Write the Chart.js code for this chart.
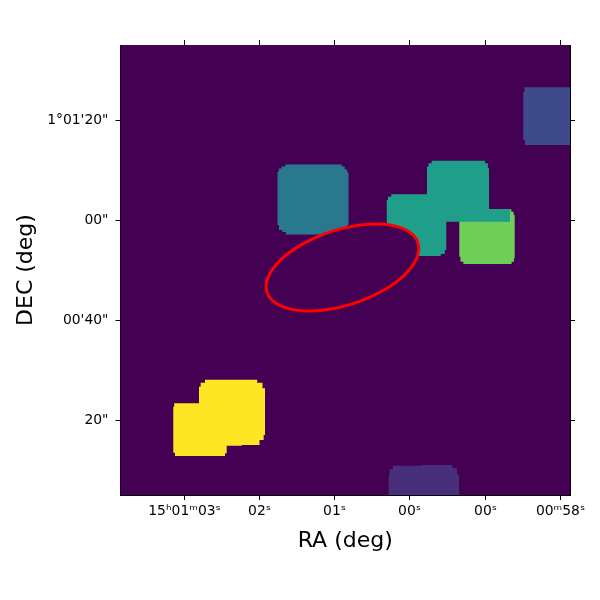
<!DOCTYPE html>
<html>
<head>
<meta charset="utf-8">
<style>body{margin:0;background:#fff}</style>
<script src="https://cdn.jsdelivr.net/npm/chart.js@4"></script>
</head>
<body>
<canvas id="map" width="600" height="600"></canvas>
<script>
// cutout grid: 450 x 450 columns/rows, row 0 at the bottom
var raTickPos = [63.5, 138.5, 213.5, 288.5, 364.5, 439.5];
var raTickLabels = ['15ʰ01ᵐ03ˢ', '02ˢ', '01ˢ', '00ˢ', '00ˢ', '00ᵐ58ˢ'];
var decTickPos = [374.5, 274.5, 174.5, 74.5];
var decTickLabels = ['1°01\'20"', '00"', '00\'40"', '20"'];

// outlines of each source, [col, row]
var ellipse = [[298,246.5],[295.4,235.8],[287.8,224.5],[275.6,213.3],[259.8,203.2],[241.3,194.7],[221.5,188.4],[201.7,184.8],[183.3,184.1],[167.4,186.4],[155.3,191.5],[147.6,199],[145,208.5],[147.6,219.2],[155.3,230.6],[167.4,241.7],[183.3,251.9],[201.7,260.3],[221.5,266.6],[241.3,270.2],[259.8,270.9],[275.6,268.6],[287.8,263.6],[295.4,256],[298,246.5]];
var blobTeal = [[265.7,295],[268.3,298.3],[272.3,300.7],[306,300.7],[306,328.3],[309,331.7],[312.3,334.3],[362.3,334.3],[365.7,331.7],[368,326.7],[368,285.7],[389,285.7],[389,273.3],[325.3,273.3],[325.3,245],[322.3,241],[317.3,239],[266,239]];
var blobGreen = [[338.3,274],[338.3,238.3],[340.7,233.3],[344,231],[389,231],[392.3,233.3],[393.7,236.7],[393.7,280],[391.7,283.3],[389,285.7],[338,285.7]];
var blobBlue = [[156.5,323],[159,326.5],[162,328.5],[167,330.5],[219,330.5],[222.5,328.5],[225,325.5],[227.5,322.5],[227.5,270],[224.5,267],[220.5,264],[217,260.5],[167,260.5],[163,263],[159.5,265],[156.5,270]];
var blobYellow = [[52.3,88.3],[54,91.7],[78,91.7],[78,108.3],[81.3,112.3],[86.7,115.3],[133.3,115.3],[139,112.3],[144,106.7],[144,60],[141.3,55],[135.7,50],[105.7,49.3],[105.7,41.7],[102.3,39],[55.7,39],[52.3,42.3]];
var blobBottom = [[267.7,20],[269.7,26],[274,29.3],[329,30],[334,26.7],[338,20],[338,0],[267.7,0]];
var blobRight = [[402.3,403.3],[404.7,407.7],[449,407.7],[449,350],[405.7,350],[402.3,355]];

var bgColor = '#440154';

function toPoints(list) {
  return list.map(function(p) { return {x: p[0], y: p[1]}; });
}
function blob(list, color) {
  return {
    data: toPoints(list),
    showLine: true,
    stepped: 'middle',
    fill: 'shape',
    backgroundColor: color,
    borderColor: 'transparent',
    borderWidth: 0,
    pointRadius: 0
  };
}
function axisTicks(pos) {
  return function(scale) {
    scale.ticks = pos.map(function(v) { return {value: v}; });
  };
}
function frameScale(position, axis, pos, size) {
  return {
    type: 'linear',
    position: position,
    axis: axis,
    min: axis === 'x' ? -0.5 : 0,
    max: axis === 'x' ? 449 : 450,
    afterBuildTicks: axisTicks(pos),
    afterFit: function(scale) {
      if (axis === 'x') scale.height = size; else scale.width = size;
    },
    grid: {drawOnChartArea: false, color: '#000', tickLength: 5, tickWidth: 1},
    border: {display: true, color: '#000', width: 1},
    ticks: {display: false, autoSkip: false}
  };
}

var fillBg = {
  id: 'fillBg',
  beforeDatasetsDraw: function(chart) {
    var a = chart.chartArea;
    chart.ctx.save();
    chart.ctx.fillStyle = bgColor;
    chart.ctx.fillRect(a.left, a.top, a.width, a.height);
    chart.ctx.restore();
  }
};

var bottomAxis = frameScale('bottom', 'x', raTickPos, 105);
bottomAxis.ticks = {
  autoSkip: false, maxRotation: 0, minRotation: 0, padding: 3, color: '#000',
  font: {family: 'DejaVu Sans', size: 13.9},
  callback: function(v, i) { return raTickLabels[i]; }
};
bottomAxis.title = {display: true, text: 'RA (deg)', color: '#000', font: {family: 'DejaVu Sans', size: 22}, padding: {top: 0, bottom: 46}};

var leftAxis = frameScale('left', 'y', decTickPos, 120.5);
leftAxis.ticks = {
  autoSkip: false, padding: 7, color: '#000',
  font: {family: 'DejaVu Sans', size: 13.9},
  callback: function(v, i) { return decTickLabels[i]; }
};
leftAxis.title = {display: true, text: 'DEC (deg)', color: '#000', font: {family: 'DejaVu Sans', size: 22}, padding: {top: 13, bottom: 0}};

var ctx = document.getElementById('map').getContext('2d');
new Chart(ctx, {
  type: 'scatter',
  data: {
    datasets: [
      {
        data: toPoints(ellipse),
        showLine: true,
        tension: 0.4,
        fill: 'shape',
        backgroundColor: bgColor,
        borderColor: '#ff0000',
        borderWidth: 3,
        pointRadius: 0
      },
      blob(blobTeal, '#1f9e89'),
      blob(blobGreen, '#6ece58'),
      blob(blobBlue, '#2a788e'),
      blob(blobYellow, '#fde725'),
      blob(blobBottom, '#482f7c'),
      blob(blobRight, '#3e4a89')
    ]
  },
  options: {
    responsive: false,
    animation: false,
    layout: {padding: 0},
    plugins: {legend: {display: false}, tooltip: {enabled: false}},
    scales: {
      x: bottomAxis,
      y: leftAxis,
      xTop: frameScale('top', 'x', raTickPos, 45),
      yRight: frameScale('right', 'y', decTickPos, 30)
    }
  },
  plugins: [fillBg]
});
</script>
</body>
</html>
